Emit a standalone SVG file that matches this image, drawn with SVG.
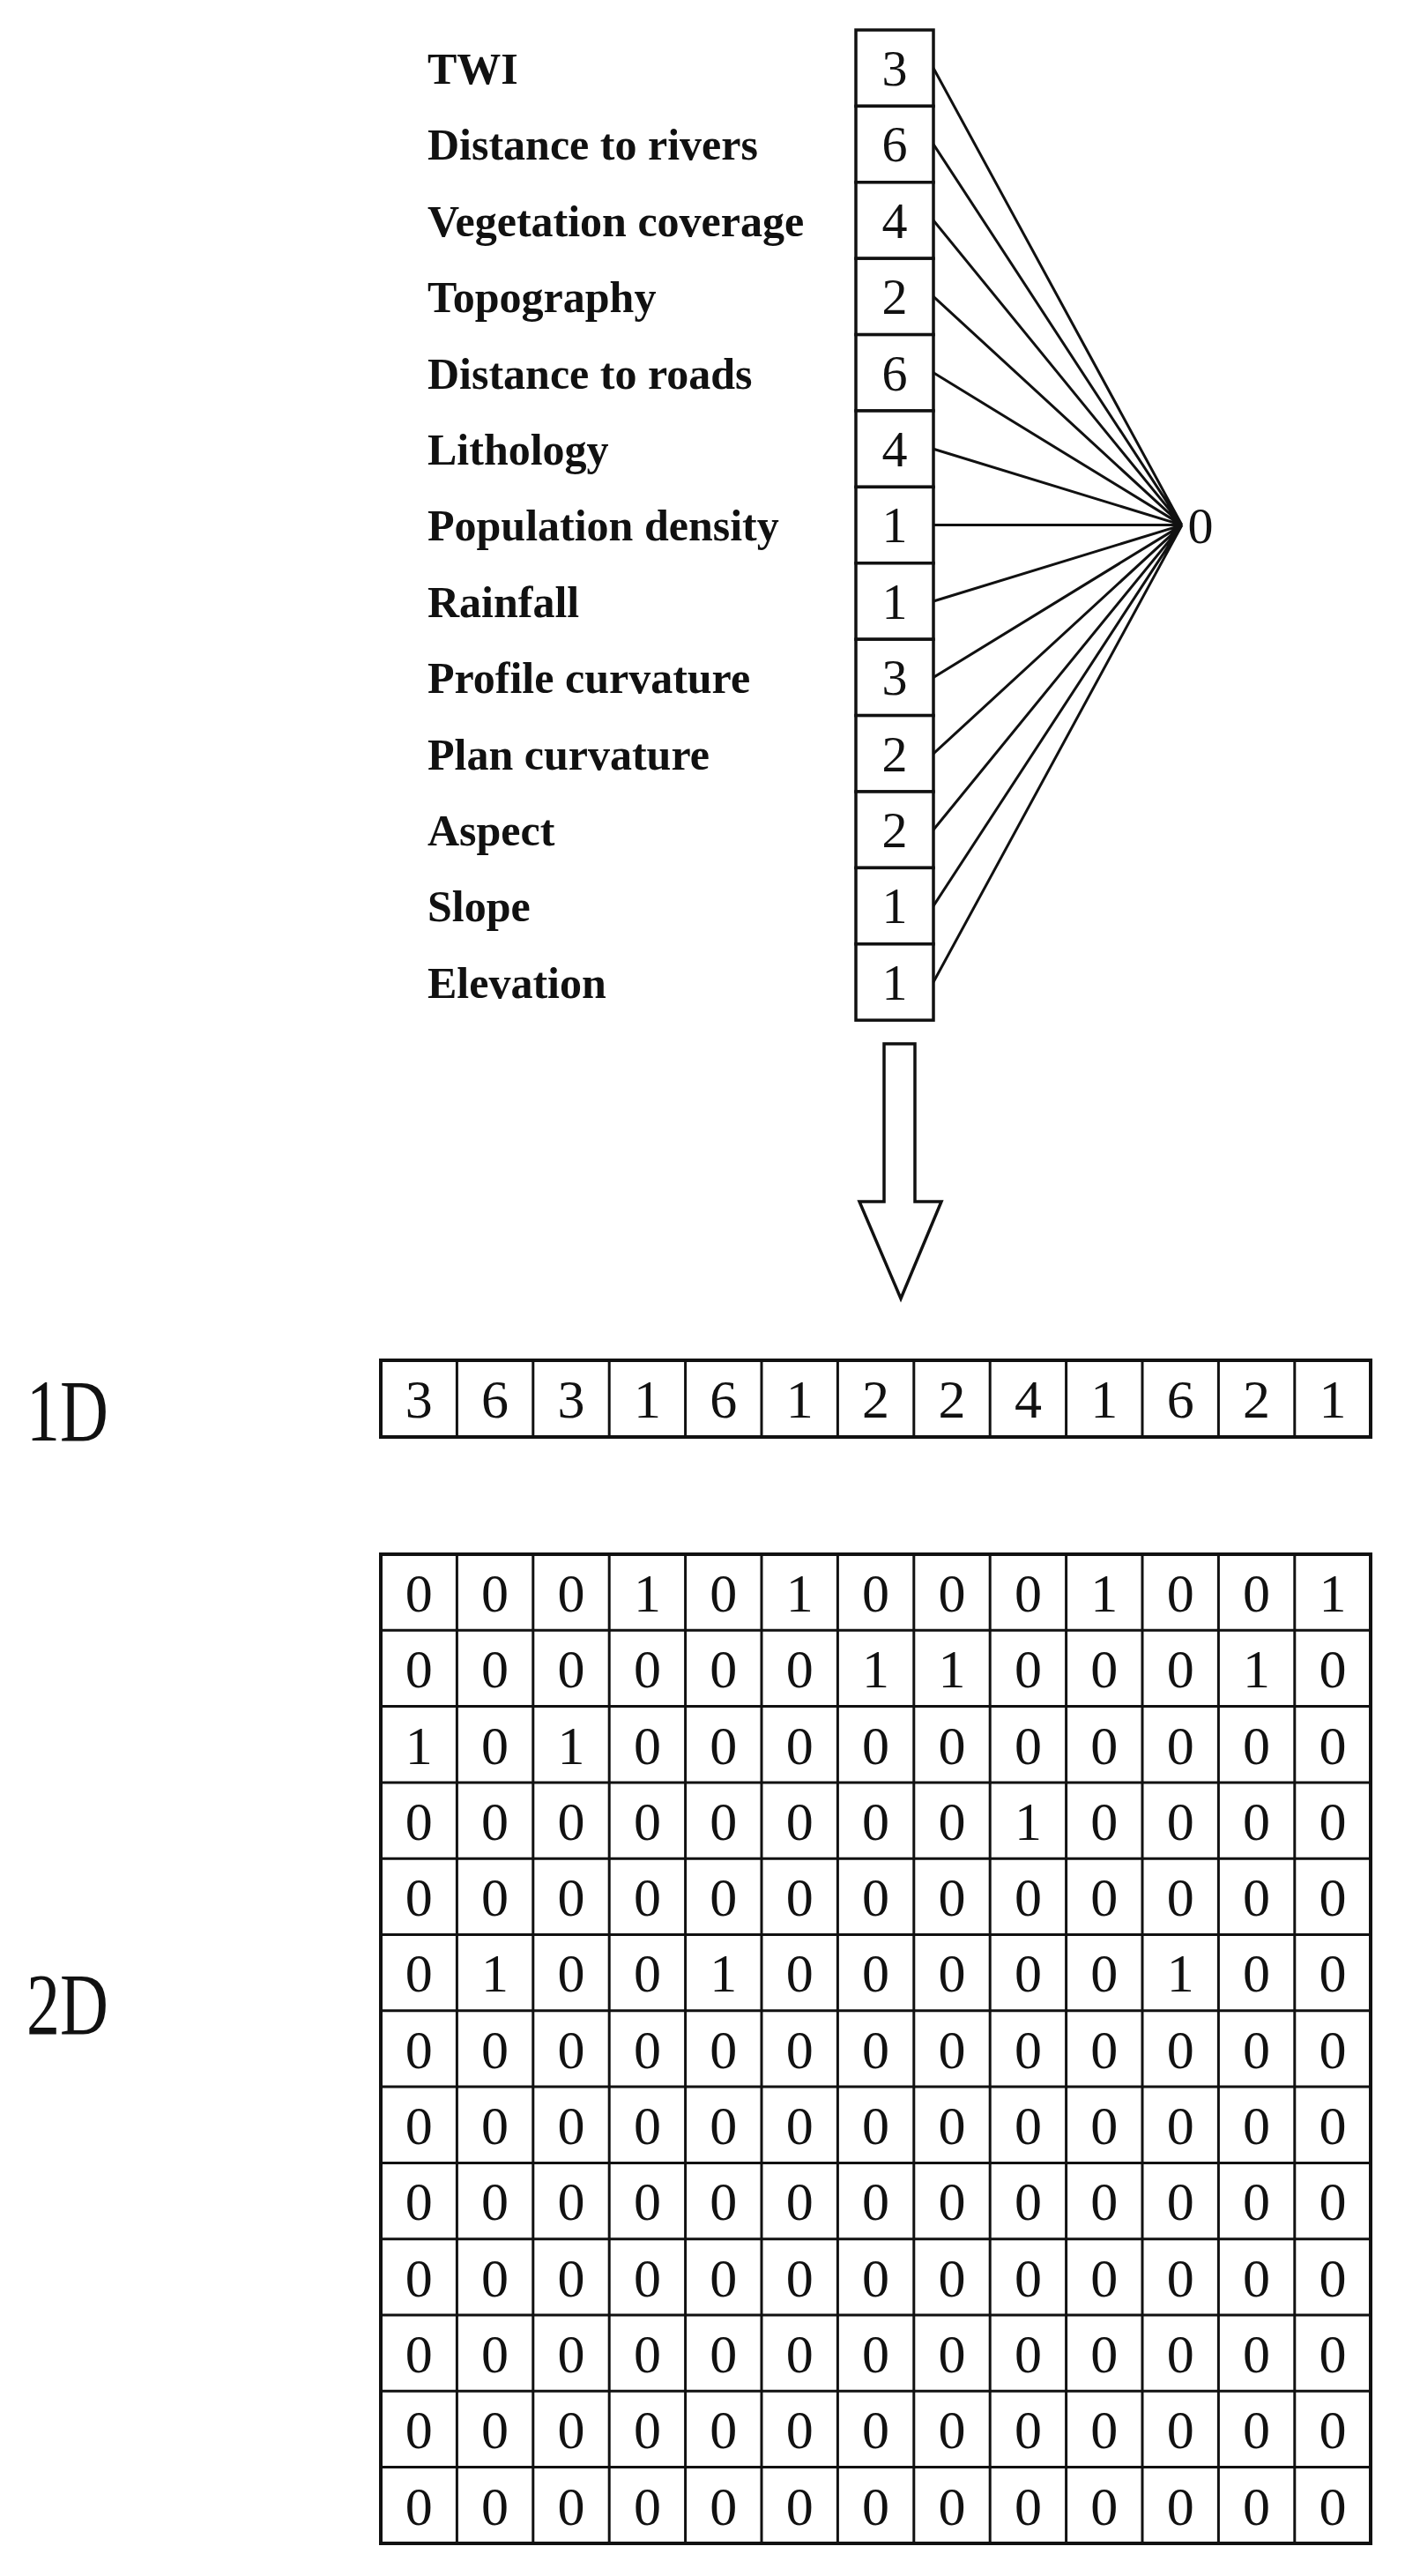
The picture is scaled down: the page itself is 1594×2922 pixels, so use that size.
<svg xmlns="http://www.w3.org/2000/svg" width="1594" height="2922" viewBox="0 0 1594 2922">
<style>
.lbl{font-family:"Liberation Serif",serif;font-weight:bold;font-size:50px;fill:#111}
.d{font-family:"Liberation Serif",serif;font-size:58px;fill:#111;text-anchor:middle}
.g{font-family:"Liberation Serif",serif;font-size:62px;fill:#111;text-anchor:middle}
.big{font-family:"Liberation Serif",serif;font-size:100px;fill:#111}
.cell{fill:#fff;stroke:#111;stroke-width:3.5}
.ln{stroke:#111;stroke-width:3;fill:none}
</style>
<rect width="1594" height="2922" fill="#fff"/>
<g id="labels">
<text class="lbl" x="485" y="95">TWI</text>
<text class="lbl" x="485" y="181">Distance to rivers</text>
<text class="lbl" x="485" y="268">Vegetation coverage</text>
<text class="lbl" x="485" y="354">Topography</text>
<text class="lbl" x="485" y="441">Distance to roads</text>
<text class="lbl" x="485" y="527">Lithology</text>
<text class="lbl" x="485" y="613">Population density</text>
<text class="lbl" x="485" y="700">Rainfall</text>
<text class="lbl" x="485" y="786">Profile curvature</text>
<text class="lbl" x="485" y="873">Plan curvature</text>
<text class="lbl" x="485" y="959">Aspect</text>
<text class="lbl" x="485" y="1045">Slope</text>
<text class="lbl" x="485" y="1132">Elevation</text>
</g>
<g id="column">
<rect class="cell" x="971" y="34" width="88" height="86.4"/><text class="d" x="1015" y="97">3</text>
<rect class="cell" x="971" y="120.4" width="88" height="86.4"/><text class="d" x="1015" y="183">6</text>
<rect class="cell" x="971" y="206.8" width="88" height="86.4"/><text class="d" x="1015" y="270">4</text>
<rect class="cell" x="971" y="293.2" width="88" height="86.4"/><text class="d" x="1015" y="356">2</text>
<rect class="cell" x="971" y="379.6" width="88" height="86.4"/><text class="d" x="1015" y="443">6</text>
<rect class="cell" x="971" y="466" width="88" height="86.4"/><text class="d" x="1015" y="529">4</text>
<rect class="cell" x="971" y="552.4" width="88" height="86.4"/><text class="d" x="1015" y="615">1</text>
<rect class="cell" x="971" y="638.8" width="88" height="86.4"/><text class="d" x="1015" y="702">1</text>
<rect class="cell" x="971" y="725.2" width="88" height="86.4"/><text class="d" x="1015" y="788">3</text>
<rect class="cell" x="971" y="811.6" width="88" height="86.4"/><text class="d" x="1015" y="875">2</text>
<rect class="cell" x="971" y="898" width="88" height="86.4"/><text class="d" x="1015" y="961">2</text>
<rect class="cell" x="971" y="984.4" width="88" height="86.4"/><text class="d" x="1015" y="1047">1</text>
<rect class="cell" x="971" y="1070.8" width="88" height="86.4"/><text class="d" x="1015" y="1134">1</text>
</g>
<g id="output"><text class="d" x="1362" y="616">0</text></g>
<g id="connectors">
<path class="ln" d="M1059 77.2L1341 595.6M1059 163.6L1341 595.6M1059 250L1341 595.6M1059 336.4L1341 595.6M1059 422.8L1341 595.6M1059 509.2L1341 595.6M1059 595.6L1341 595.6M1059 682L1341 595.6M1059 768.4L1341 595.6M1059 854.8L1341 595.6M1059 941.2L1341 595.6M1059 1027.6L1341 595.6M1059 1114L1341 595.6"/>
<path id="arrow" d="M1003 1184H1038V1363H1068L1022 1473L975 1363H1003Z" fill="#fff" stroke="#111" stroke-width="3.5" stroke-linejoin="miter"/>
</g>
<g id="label1D"><text class="big" transform="translate(30 1634) scale(0.76 1)">1D</text></g>
<g id="label2D"><text class="big" transform="translate(30 2307) scale(0.76 1)">2D</text></g>
<g id="row1D">
<rect x="432" y="1543" width="1123" height="87" fill="#fff" stroke="#111" stroke-width="4"/>
<path class="ln" d="M518.4 1543V1630M604.8 1543V1630M691.2 1543V1630M777.6 1543V1630M864 1543V1630M950.4 1543V1630M1036.8 1543V1630M1123.2 1543V1630M1209.6 1543V1630M1296 1543V1630M1382.4 1543V1630M1468.8 1543V1630"/>
<g class="g">
<text x="475.2" y="1608">3</text><text x="561.6" y="1608">6</text><text x="648" y="1608">3</text><text x="734.4" y="1608">1</text><text x="820.8" y="1608">6</text><text x="907.2" y="1608">1</text><text x="993.6" y="1608">2</text><text x="1080" y="1608">2</text><text x="1166.4" y="1608">4</text><text x="1252.8" y="1608">1</text><text x="1339.2" y="1608">6</text><text x="1425.6" y="1608">2</text><text x="1512" y="1608">1</text>
</g>
</g>
<g id="grid2D">
<rect x="432" y="1763" width="1123" height="1122" fill="#fff" stroke="#111" stroke-width="4"/>
<path class="ln" d="M518.4 1763V2885M604.8 1763V2885M691.2 1763V2885M777.6 1763V2885M864 1763V2885M950.4 1763V2885M1036.8 1763V2885M1123.2 1763V2885M1209.6 1763V2885M1296 1763V2885M1382.4 1763V2885M1468.8 1763V2885"/>
<path class="ln" stroke-width="3.5" d="M432 1849.3H1555M432 1935.6H1555M432 2021.9H1555M432 2108.2H1555M432 2194.5H1555M432 2280.8H1555M432 2367.1H1555M432 2453.4H1555M432 2539.7H1555M432 2626H1555M432 2712.3H1555M432 2798.6H1555"/>
<g class="g">
<text x="475.2" y="1828">0</text><text x="561.6" y="1828">0</text><text x="648" y="1828">0</text><text x="734.4" y="1828">1</text><text x="820.8" y="1828">0</text><text x="907.2" y="1828">1</text><text x="993.6" y="1828">0</text><text x="1080" y="1828">0</text><text x="1166.4" y="1828">0</text><text x="1252.8" y="1828">1</text><text x="1339.2" y="1828">0</text><text x="1425.6" y="1828">0</text><text x="1512" y="1828">1</text>
<text x="475.2" y="1914">0</text><text x="561.6" y="1914">0</text><text x="648" y="1914">0</text><text x="734.4" y="1914">0</text><text x="820.8" y="1914">0</text><text x="907.2" y="1914">0</text><text x="993.6" y="1914">1</text><text x="1080" y="1914">1</text><text x="1166.4" y="1914">0</text><text x="1252.8" y="1914">0</text><text x="1339.2" y="1914">0</text><text x="1425.6" y="1914">1</text><text x="1512" y="1914">0</text>
<text x="475.2" y="2001">1</text><text x="561.6" y="2001">0</text><text x="648" y="2001">1</text><text x="734.4" y="2001">0</text><text x="820.8" y="2001">0</text><text x="907.2" y="2001">0</text><text x="993.6" y="2001">0</text><text x="1080" y="2001">0</text><text x="1166.4" y="2001">0</text><text x="1252.8" y="2001">0</text><text x="1339.2" y="2001">0</text><text x="1425.6" y="2001">0</text><text x="1512" y="2001">0</text>
<text x="475.2" y="2087">0</text><text x="561.6" y="2087">0</text><text x="648" y="2087">0</text><text x="734.4" y="2087">0</text><text x="820.8" y="2087">0</text><text x="907.2" y="2087">0</text><text x="993.6" y="2087">0</text><text x="1080" y="2087">0</text><text x="1166.4" y="2087">1</text><text x="1252.8" y="2087">0</text><text x="1339.2" y="2087">0</text><text x="1425.6" y="2087">0</text><text x="1512" y="2087">0</text>
<text x="475.2" y="2173">0</text><text x="561.6" y="2173">0</text><text x="648" y="2173">0</text><text x="734.4" y="2173">0</text><text x="820.8" y="2173">0</text><text x="907.2" y="2173">0</text><text x="993.6" y="2173">0</text><text x="1080" y="2173">0</text><text x="1166.4" y="2173">0</text><text x="1252.8" y="2173">0</text><text x="1339.2" y="2173">0</text><text x="1425.6" y="2173">0</text><text x="1512" y="2173">0</text>
<text x="475.2" y="2259">0</text><text x="561.6" y="2259">1</text><text x="648" y="2259">0</text><text x="734.4" y="2259">0</text><text x="820.8" y="2259">1</text><text x="907.2" y="2259">0</text><text x="993.6" y="2259">0</text><text x="1080" y="2259">0</text><text x="1166.4" y="2259">0</text><text x="1252.8" y="2259">0</text><text x="1339.2" y="2259">1</text><text x="1425.6" y="2259">0</text><text x="1512" y="2259">0</text>
<text x="475.2" y="2346">0</text><text x="561.6" y="2346">0</text><text x="648" y="2346">0</text><text x="734.4" y="2346">0</text><text x="820.8" y="2346">0</text><text x="907.2" y="2346">0</text><text x="993.6" y="2346">0</text><text x="1080" y="2346">0</text><text x="1166.4" y="2346">0</text><text x="1252.8" y="2346">0</text><text x="1339.2" y="2346">0</text><text x="1425.6" y="2346">0</text><text x="1512" y="2346">0</text>
<text x="475.2" y="2432">0</text><text x="561.6" y="2432">0</text><text x="648" y="2432">0</text><text x="734.4" y="2432">0</text><text x="820.8" y="2432">0</text><text x="907.2" y="2432">0</text><text x="993.6" y="2432">0</text><text x="1080" y="2432">0</text><text x="1166.4" y="2432">0</text><text x="1252.8" y="2432">0</text><text x="1339.2" y="2432">0</text><text x="1425.6" y="2432">0</text><text x="1512" y="2432">0</text>
<text x="475.2" y="2518">0</text><text x="561.6" y="2518">0</text><text x="648" y="2518">0</text><text x="734.4" y="2518">0</text><text x="820.8" y="2518">0</text><text x="907.2" y="2518">0</text><text x="993.6" y="2518">0</text><text x="1080" y="2518">0</text><text x="1166.4" y="2518">0</text><text x="1252.8" y="2518">0</text><text x="1339.2" y="2518">0</text><text x="1425.6" y="2518">0</text><text x="1512" y="2518">0</text>
<text x="475.2" y="2605">0</text><text x="561.6" y="2605">0</text><text x="648" y="2605">0</text><text x="734.4" y="2605">0</text><text x="820.8" y="2605">0</text><text x="907.2" y="2605">0</text><text x="993.6" y="2605">0</text><text x="1080" y="2605">0</text><text x="1166.4" y="2605">0</text><text x="1252.8" y="2605">0</text><text x="1339.2" y="2605">0</text><text x="1425.6" y="2605">0</text><text x="1512" y="2605">0</text>
<text x="475.2" y="2691">0</text><text x="561.6" y="2691">0</text><text x="648" y="2691">0</text><text x="734.4" y="2691">0</text><text x="820.8" y="2691">0</text><text x="907.2" y="2691">0</text><text x="993.6" y="2691">0</text><text x="1080" y="2691">0</text><text x="1166.4" y="2691">0</text><text x="1252.8" y="2691">0</text><text x="1339.2" y="2691">0</text><text x="1425.6" y="2691">0</text><text x="1512" y="2691">0</text>
<text x="475.2" y="2777">0</text><text x="561.6" y="2777">0</text><text x="648" y="2777">0</text><text x="734.4" y="2777">0</text><text x="820.8" y="2777">0</text><text x="907.2" y="2777">0</text><text x="993.6" y="2777">0</text><text x="1080" y="2777">0</text><text x="1166.4" y="2777">0</text><text x="1252.8" y="2777">0</text><text x="1339.2" y="2777">0</text><text x="1425.6" y="2777">0</text><text x="1512" y="2777">0</text>
<text x="475.2" y="2864">0</text><text x="561.6" y="2864">0</text><text x="648" y="2864">0</text><text x="734.4" y="2864">0</text><text x="820.8" y="2864">0</text><text x="907.2" y="2864">0</text><text x="993.6" y="2864">0</text><text x="1080" y="2864">0</text><text x="1166.4" y="2864">0</text><text x="1252.8" y="2864">0</text><text x="1339.2" y="2864">0</text><text x="1425.6" y="2864">0</text><text x="1512" y="2864">0</text>
</g>
</g>
</svg>
